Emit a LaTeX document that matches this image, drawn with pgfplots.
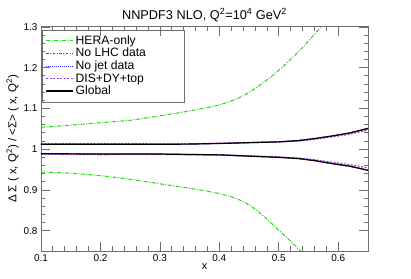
\documentclass[border=0pt]{standalone}
\usepackage{fontspec}
\setmainfont{Liberation Sans}
\usepackage{pgfplots}
\pgfplotsset{compat=1.18}
\definecolor{heragreen}{RGB}{40,210,20}
\definecolor{lhcred}{RGB}{240,20,20}
\definecolor{jetblue}{RGB}{50,50,255}
\definecolor{dispurple}{RGB}{150,60,240}
\definecolor{framegray}{RGB}{110,110,110}
\begin{document}
\begin{tikzpicture}
\path[use as bounding box] (-41bp,-28bp) rectangle (370bp,251bp);
\begin{axis}[
  scale only axis,
  width=327bp, height=224bp,
  xmin=0.1, xmax=0.65, ymin=0.75, ymax=1.3,
  xtick={0.1,0.2,0.3,0.4,0.5,0.6},
  ytick={0.8,0.9,1,1.1,1.2,1.3},
  minor x tick num=4, minor y tick num=4,
  tick align=inside,
  major tick length=9bp, minor tick length=4.5bp,
  axis line style={framegray, line width=1pt},
  every tick/.style={framegray, line width=0.8pt},
  /pgf/number format/assume math mode=true,
  xticklabel style={font=\fontsize{10}{12}\selectfont},
  yticklabel style={font=\fontsize{10}{12}\selectfont},
  xticklabel={\pgfmathprintnumber[fixed,precision=1]{\tick}},
  yticklabel={\pgfmathprintnumber[fixed,precision=1]{\tick}},
  title={NNPDF3 NLO, Q\textsuperscript{2}=10\textsuperscript{4} GeV\textsuperscript{2}},
  title style={font=\fontsize{12.8}{14}\selectfont, yshift=-4bp},
  xlabel={x},
  xlabel style={font=\fontsize{11}{12}\selectfont, yshift=5bp},
  ylabel={Δ Σ ( x, Q\textsuperscript{2}) / <Σ> ( x, Q\textsuperscript{2})},
  ylabel style={font=\fontsize{11.5}{12}\selectfont, yshift=-2bp},
  legend style={at={(rel axis cs:0.004,0.983)}, anchor=north west,
    draw=none, fill=none, font=\fontsize{12.2}{14}\selectfont,
    row sep=-1.6bp, inner xsep=3bp, inner ysep=2.5bp},
  legend cell align=left,
  legend image code/.code={\draw[#1] (0bp,0bp) -- (27bp,0bp);},
  clip=true,
]
\draw[framegray, line width=0.8pt] (axis description cs:0.003,0.987) rectangle (axis description cs:0.440,0.665);
% HERA-only
\addplot[color=heragreen, line width=1pt, smooth, dash pattern=on 4pt off 1.5pt on 1pt off 1.5pt] coordinates {
(0.1,1.054)(0.15,1.059)(0.2,1.065)(0.25,1.071)(0.3,1.082)(0.35,1.094)(0.4,1.109)(0.44,1.131)(0.48,1.170)(0.51,1.207)(0.54,1.250)(0.572,1.302)(0.6,1.348)(0.65,1.43)};
\addlegendentry{HERA-only}
\addplot[color=heragreen, line width=1pt, smooth, dash pattern=on 4pt off 1.5pt on 1pt off 1.5pt, forget plot] coordinates {
(0.1,0.944)(0.15,0.941)(0.2,0.935)(0.25,0.926)(0.3,0.915)(0.35,0.904)(0.4,0.891)(0.433,0.876)(0.461,0.852)(0.5,0.801)(0.536,0.751)(0.56,0.715)(0.6,0.65)(0.65,0.57)};
% No LHC data
\addplot[color=lhcred, line width=1pt, dash pattern=on 2.5pt off 1.5pt on 1pt off 1.5pt] coordinates {
(0.1,0.9885)(0.2,0.9875)(0.3,0.9875)(0.35,0.9865)(0.4,0.9855)(0.45,0.9825)(0.5,0.9795)(0.533,0.9765)(0.56,0.9715)(0.588,0.9645)(0.62,0.9575)(0.65,0.948)};
\addlegendentry{No LHC data}
\addplot[color=lhcred, line width=1pt, dash pattern=on 2.5pt off 1.5pt on 1pt off 1.5pt, forget plot] coordinates {
(0.1,1.0125)(0.2,1.0125)(0.3,1.0125)(0.35,1.013)(0.4,1.0145)(0.45,1.0165)(0.5,1.0185)(0.533,1.0215)(0.56,1.0265)(0.588,1.0325)(0.62,1.0405)(0.65,1.051)};
% No jet data
\addplot[color=jetblue, line width=1pt, densely dotted] coordinates {
(0.1,1.0115)(0.2,1.0115)(0.3,1.012)(0.35,1.0125)(0.4,1.014)(0.45,1.016)(0.5,1.018)(0.533,1.021)(0.56,1.026)(0.588,1.032)(0.62,1.040)(0.65,1.050)};
\addlegendentry{No jet data}
\addplot[color=jetblue, line width=1pt, densely dotted, forget plot] coordinates {
(0.1,0.9895)(0.2,0.9885)(0.3,0.9885)(0.35,0.9875)(0.4,0.9865)(0.45,0.9835)(0.5,0.9805)(0.533,0.9775)(0.56,0.9725)(0.588,0.9655)(0.62,0.9585)(0.65,0.949)};
% DIS+DY+top
\addplot[color=dispurple, line width=1.2pt, dash pattern=on 2pt off 1.5pt] coordinates {
(0.1,1.0135)(0.2,1.0135)(0.3,1.013)(0.35,1.013)(0.4,1.0145)(0.45,1.016)(0.5,1.0175)(0.533,1.020)(0.56,1.024)(0.588,1.030)(0.62,1.037)(0.65,1.047)};
\addlegendentry{DIS+DY+top}
\addplot[color=dispurple, line width=1.2pt, dash pattern=on 2pt off 1.5pt, forget plot] coordinates {
(0.1,0.9875)(0.2,0.9865)(0.3,0.987)(0.35,0.9865)(0.4,0.986)(0.45,0.9835)(0.5,0.981)(0.533,0.978)(0.56,0.974)(0.588,0.968)(0.62,0.962)(0.65,0.954)};
% Global
\addplot[color=black, line width=1.2pt] coordinates {
(0.1,1.012)(0.2,1.012)(0.3,1.012)(0.35,1.0125)(0.4,1.014)(0.45,1.016)(0.5,1.018)(0.533,1.021)(0.56,1.026)(0.588,1.032)(0.62,1.040)(0.65,1.051)};
\addlegendentry{Global}
\addplot[color=black, line width=1.2pt, forget plot] coordinates {
(0.1,0.989)(0.2,0.988)(0.3,0.988)(0.35,0.987)(0.4,0.986)(0.45,0.983)(0.5,0.980)(0.533,0.977)(0.56,0.972)(0.588,0.965)(0.62,0.958)(0.65,0.948)};
\end{axis}
\end{tikzpicture}
\end{document}
